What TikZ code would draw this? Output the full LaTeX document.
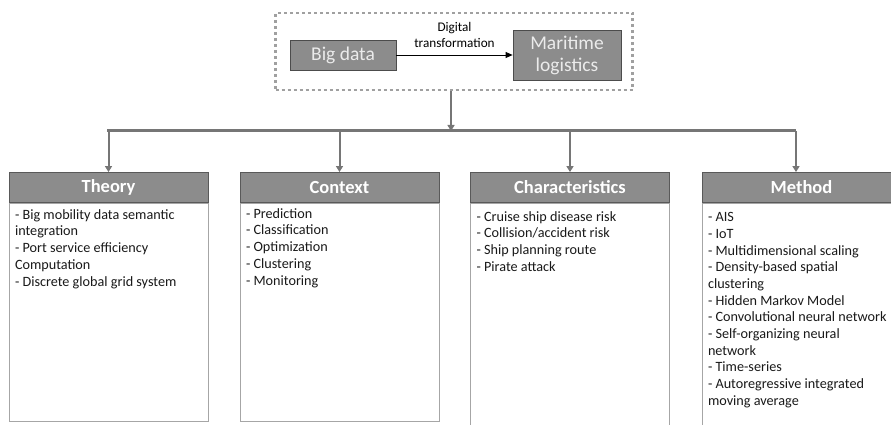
\documentclass[tikz,border=0pt]{standalone}
\usepackage{fontspec}
\setmainfont{Carlito}
\usepackage{xcolor}
\usetikzlibrary{positioning,arrows.meta}

\definecolor{hdrgray}{HTML}{8C8C8C}
\definecolor{linegray}{HTML}{767676}
\definecolor{edgegray}{HTML}{A6A6A6}
\definecolor{dotgray}{HTML}{A0A0A0}

\newcommand{\boxtext}[2][208pt]{\parbox[t][#1][t]{187pt}{\raggedright\fontsize{14.2}{16.7}\selectfont #2}}

\begin{document}
\begin{tikzpicture}[x=1pt, y=-1pt,
    topbox/.style = {draw=black!70, fill=hdrgray, text=white!92!black, line width=0.8pt,
                     font=\fontsize{19.5}{22}\selectfont, align=center, inner sep=0pt},
    header/.style = {draw=black!65, fill=hdrgray, text=white, line width=0.9pt,
                     minimum width=199pt, minimum height=30pt, inner sep=0pt,
                     font=\fontsize{18.5}{20}\selectfont\bfseries},
    bodybox/.style = {draw=edgegray, line width=0.9pt, inner xsep=6pt, inner ysep=5pt,
                      text=black!90, anchor=north},
    conn/.style = {draw=linegray, line width=2pt, -{Triangle[length=6pt,width=7pt]}}]
  \useasboundingbox (0,0) rectangle (891,425);
  \clip (0,0) rectangle (891,425);

  % top part
  \node[draw=dotgray, line width=2.6pt, dash pattern=on 3pt off 3pt,
        minimum width=357pt, minimum height=77pt] (frame) at (454,51.5) {};
  \node[topbox, minimum width=106pt, minimum height=30pt] (bigdata) at (343,55) {Big data};
  \node[topbox, minimum width=108pt, minimum height=50pt] (maritime) at (567,55) {Maritime\\logistics};
  \draw[-{Triangle[length=7pt,width=6pt]}, line width=0.8pt] (bigdata) -- node[above=4pt, align=center,
        font=\fontsize{13.2}{16}\selectfont, pos=0.5] {Digital\\transformation} (maritime);

  % branch bar
  \coordinate (barL) at (107,131);
  \coordinate (barR) at (796,131);
  \draw[linegray, line width=3pt] (barL) -- (barR);
  \draw[conn] (frame.south -| 451,0) -- (451,131);

  % four columns
  \node[header] (theory) at (108.5,187.5) {Theory};
  \node[header] (context) at (339.5,187.5) {Context};
  \node[header] (charac) at (570,187.5) {Characteristics};
  \node[header] (method) at (801.5,187.5) {Method};

  \node[bodybox, below=0pt of theory] (theoryb) {\boxtext{\vspace*{1pt}- Big mobility data semantic\\integration\\- Port service efficiency\\Computation\\- Discrete global grid system}};
  \node[bodybox, below=0pt of context] (contextb) {\boxtext{- Prediction\\- Classification\\- Optimization\\- Clustering\\- Monitoring}};
  \node[bodybox, below=0pt of charac] (characb) {\boxtext[225pt]{\vspace*{3pt}- Cruise ship disease risk\\- Collision/accident risk\\- Ship planning route\\- Pirate attack}};
  \node[bodybox, below=0pt of method] (methodb) {\boxtext[225pt]{\vspace*{4pt}- AIS\\- IoT\\- Multidimensional scaling\\- Density-based spatial\\clustering\\- Hidden Markov Model\\- Convolutional neural network\\- Self-organizing neural\\network\\- Time-series\\- Autoregressive integrated\\moving average}};

  \draw[conn] (theory.north |- barL) -- (theory.north);
  \draw[conn] (context.north |- barL) -- (context.north);
  \draw[conn] (charac.north |- barL) -- (charac.north);
  \draw[conn] (barR) -- (barR |- method.north);
\end{tikzpicture}
\end{document}
